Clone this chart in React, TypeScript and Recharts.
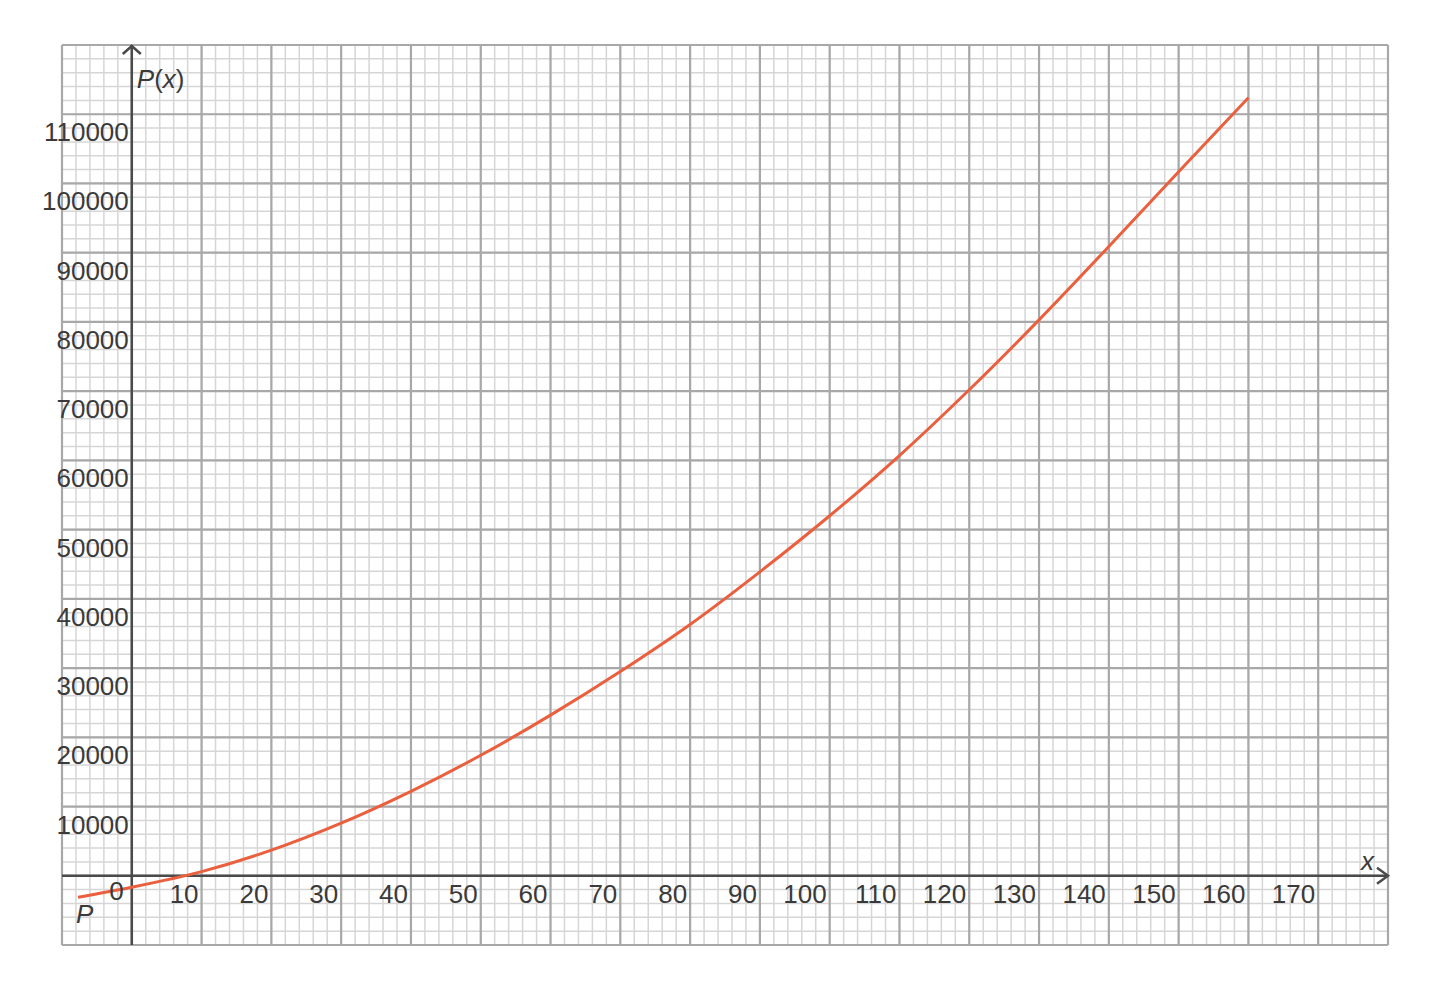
import React from 'react';
import { LineChart, Line, XAxis, YAxis, CartesianGrid, ReferenceLine, ReferenceDot } from 'recharts';

// ---- data ----
const xValues = [-7.7, 0, 10, 20, 30, 40, 50, 60, 70, 80, 90, 100, 110, 120, 130, 140, 150, 160];
const pValues = [-3100, -1650, 600, 3700, 7600, 12200, 17400, 23200, 29500, 36300, 43900, 52000, 60700, 70200, 80300, 90900, 101700, 112400];

const xTickLabels = [0, 10, 20, 30, 40, 50, 60, 70, 80, 90, 100, 110, 120, 130, 140, 150, 160, 170];
const yTickLabels = [10000, 20000, 30000, 40000, 50000, 60000, 70000, 80000, 90000, 100000, 110000];

const xMajor = [-10, 0, 10, 20, 30, 40, 50, 60, 70, 80, 90, 100, 110, 120, 130, 140, 150, 160, 170, 180];
const yMajor = [-10000, 0, 10000, 20000, 30000, 40000, 50000, 60000, 70000, 80000, 90000, 100000, 110000, 120000];
const xMinor = Array.from({ length: 96 }, (_, i) => -10 + i * 2);
const yMinor = Array.from({ length: 66 }, (_, i) => -10000 + i * 2000);

const data = xValues.map((x, i) => ({ x, p: pValues[i] }));

const FONT = '"Liberation Sans", Arial, Helvetica, sans-serif';
const TEXT = '#3a3a3a';
const FS = 26;

const center = (props: any) => {
  const vb = props.viewBox || {};
  return { cx: vb.x + (vb.width || 0) / 2, cy: vb.y + (vb.height || 0) / 2 };
};

const xTick = (v: number) => (props: any) => {
  const { cx, cy } = center(props);
  const isZero = v === 0;
  return (
    <text x={cx - (isZero ? 8 : 3)} y={cy + (isZero ? 24 : 27)} textAnchor="end" fontFamily={FONT} fontSize={FS} fill={TEXT}>
      {v}
    </text>
  );
};

const yTick = (v: number) => (props: any) => {
  const { cx, cy } = center(props);
  return (
    <text x={cx - 3} y={cy + 27} textAnchor="end" fontFamily={FONT} fontSize={FS} fill={TEXT}>
      {v}
    </text>
  );
};

const xAxisShape = (props: any) => {
  const y = props.y1;
  const xl = Math.min(props.x1, props.x2);
  const xr = Math.max(props.x1, props.x2);
  return (
    <g>
      <line x1={xl} y1={y} x2={xr} y2={y} stroke="#4a4a4a" strokeWidth={2.5} />
      <path d={`M ${xr - 11} ${y - 8} L ${xr} ${y} L ${xr - 11} ${y + 8}`} fill="none" stroke="#4a4a4a" strokeWidth={2.5} />
    </g>
  );
};

const yAxisShape = (props: any) => {
  const x = props.x1;
  const yt = Math.min(props.y1, props.y2);
  const yb = Math.max(props.y1, props.y2);
  return (
    <g>
      <line x1={x} y1={yt} x2={x} y2={yb} stroke="#4a4a4a" strokeWidth={2.5} />
      <path d={`M ${x - 9} ${yt + 9} L ${x} ${yt + 1} L ${x + 9} ${yt + 9}`} fill="none" stroke="#4a4a4a" strokeWidth={2.5} />
    </g>
  );
};

const pxLabel = (props: any) => {
  const { cx, cy } = center(props);
  return (
    <text x={cx + 5} y={cy + 43} fontFamily={FONT} fontSize={FS} fill={TEXT}>
      <tspan fontStyle="italic">P</tspan>
      <tspan>(</tspan>
      <tspan fontStyle="italic">x</tspan>
      <tspan>)</tspan>
    </text>
  );
};

const xNameLabel = (props: any) => {
  const { cx, cy } = center(props);
  return (
    <text x={cx - 27} y={cy - 6} fontFamily={FONT} fontSize={FS} fontStyle="italic" fill={TEXT}>
      x
    </text>
  );
};

const pNameLabel = (props: any) => {
  const { cx, cy } = center(props);
  return (
    <text x={cx - 2} y={cy + 26} fontFamily={FONT} fontSize={FS} fontStyle="italic" fill={TEXT}>
      P
    </text>
  );
};

export default function App() {
  return (
    <div style={{ width: 1424, height: 960, background: '#fff' }}>
      <LineChart width={1424} height={960} data={data} margin={{ top: 37, right: 44, bottom: 23, left: 54 }}>
        <XAxis dataKey="x" type="number" domain={[-10, 180]} ticks={xMinor} interval={0} allowDataOverflow hide />
        <YAxis type="number" domain={[-10000, 120000]} ticks={yMinor} interval={0} allowDataOverflow hide />
        <CartesianGrid stroke="#d6d6d6" strokeWidth={1.5} verticalValues={xMinor} horizontalValues={yMinor} />
        {xMajor.map((v) => (
          <ReferenceLine key={'mx' + v} x={v} stroke="#a8a8a8" strokeWidth={2.2} ifOverflow="visible" />
        ))}
        {yMajor.map((v) => (
          <ReferenceLine key={'my' + v} y={v} stroke="#a8a8a8" strokeWidth={2.2} ifOverflow="visible" />
        ))}
        <ReferenceLine y={0} shape={xAxisShape} ifOverflow="visible" />
        <ReferenceLine x={0} shape={yAxisShape} ifOverflow="visible" />
        {xTickLabels.map((v) => (
          <ReferenceDot key={'xt' + v} x={v} y={0} r={1} fill="none" stroke="none" ifOverflow="visible" label={xTick(v)} />
        ))}
        {yTickLabels.map((v) => (
          <ReferenceDot key={'yt' + v} x={0} y={v} r={1} fill="none" stroke="none" ifOverflow="visible" label={yTick(v)} />
        ))}
        <ReferenceDot x={0} y={120000} r={1} fill="none" stroke="none" ifOverflow="visible" label={pxLabel} />
        <ReferenceDot x={180} y={0} r={1} fill="none" stroke="none" ifOverflow="visible" label={xNameLabel} />
        <ReferenceDot x={xValues[0]} y={pValues[0]} r={1} fill="none" stroke="none" ifOverflow="visible" label={pNameLabel} />
        <Line dataKey="p" type="monotone" stroke="#ea5f3d" strokeWidth={3} dot={false} isAnimationActive={false} />
      </LineChart>
    </div>
  );
}
